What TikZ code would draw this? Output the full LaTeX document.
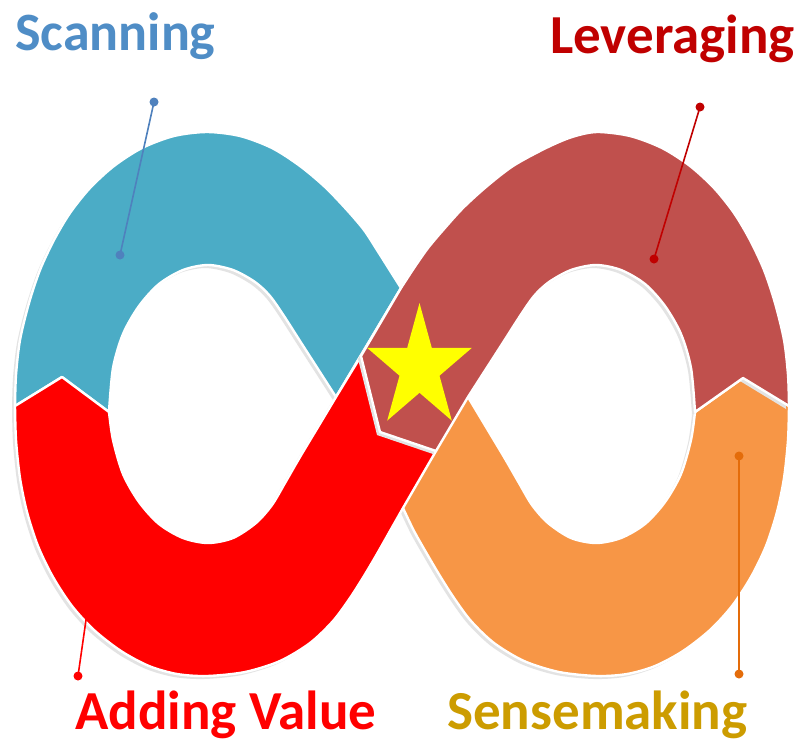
\documentclass[tikz,border=0pt]{standalone}
\usepackage{fontspec}
\setmainfont{Carlito}
\definecolor{bandblue}{HTML}{4BACC6}
\definecolor{bandbrick}{HTML}{C0504D}
\definecolor{bandred}{HTML}{FF0000}
\definecolor{bandorange}{HTML}{F79646}
\definecolor{scantext}{HTML}{4F8DC6}
\definecolor{scanline}{HTML}{4F81BD}
\definecolor{levtext}{HTML}{C00000}
\definecolor{sensetext}{HTML}{CC9C00}
\definecolor{senseline}{HTML}{E46C0A}
\definecolor{staryellow}{HTML}{FFFF00}
\begin{document}
% left loop outline pieces
\def\LOtop{(401,288) (389,269) (377,250) (364,230) (347,210) (325,187) (300,166) (272,148) (240,136) (207,132) (174,136) (142,148) (114,166) (90,188) (70,213) (54,240) (40,270) (29,303) (20,340) (16,375) (15,406)}
\def\LObot{(15,406) (16,440) (20,478) (27,512) (38,546) (53,577) (72,606) (94,630) (121,651) (149,666) (177,674) (207,676) (245,672) (280,661) (310,643) (333,621) (350,598) (364,576) (377,554) (390,531) (403,508)}
\def\LHup{(109,412) (113,368) (123,334) (139,306) (159,284) (183,270) (208,265) (233,270) (255,282) (270,296) (284,316) (300,341) (318,369) (336,397)}
\def\LHlow{(336,397) (318,427) (300,457) (285,483) (272,505) (256,523) (233,538) (208,543) (183,538) (159,524) (139,502) (123,474) (113,440) (109,412)}
% right loop outline pieces
\def\ROtop{(401,288) (414,268) (428,248) (444,229) (463,208) (486,187) (513,166) (546,148) (572,137) (597,132) (630,136) (662,148) (690,166) (714,188) (734,213) (750,240) (764,270) (775,303) (784,340) (788,375) (789,406)}
\def\RObot{(403,508) (414,531) (427,554) (440,576) (454,598) (471,621) (494,643) (524,661) (559,672) (597,676) (627,674) (655,666) (683,651) (710,630) (732,606) (751,577) (766,546) (777,512) (784,478) (788,440) (789,406)}
\def\RHup{(695,412) (691,368) (681,334) (665,306) (645,284) (621,270) (596,265) (571,270) (549,282) (534,296) (520,316) (504,341) (486,369) (468,397)}
\def\RHlow{(695,412) (691,440) (681,474) (665,502) (645,524) (621,538) (596,543) (571,538) (548,523) (532,505) (519,483) (504,457) (486,427) (468,397)}
% segment outlines
\def\pBlue{(401,288) -- plot[smooth,tension=.5] coordinates {\LOtop} -- (62,377) -- plot[smooth,tension=.5] coordinates {\LHup} -- (403,508) -- (468,397) -- cycle}
\def\pOrange{(403,508) -- plot[smooth,tension=.5] coordinates {\RObot} -- (743,378) -- plot[smooth,tension=.5] coordinates {\RHlow} -- (401,288) -- (336,397) -- cycle}
\def\pRed{(15,406) -- plot[smooth,tension=.5] coordinates {\LObot} -- (436,451) -- (380,432) -- (361,356) -- plot[smooth,tension=.5] coordinates {\LHlow} -- (62,377) -- cycle}
\def\pBrick{(361,356) -- plot[smooth,tension=.5] coordinates {\ROtop} -- (743,378) -- plot[smooth,tension=.5] coordinates {\RHup} -- (436,451) -- (380,432) -- cycle}
\begin{tikzpicture}[x=1pt,y=-1pt,
  seg/.style={draw=white, line width=2.4pt, line join=round},
  segshadow/.style={fill=black!11, xshift=-3pt, yshift=-3pt},
  lbl/.style={font=\fontsize{55}{60}\selectfont\bfseries, inner sep=0pt, anchor=base west},
  lead/.style={line width=1.6pt},
  dot/.style={circle, inner sep=0pt, minimum size=9pt}]
\fill[white] (0,0) rectangle (799,742);
\useasboundingbox (0,0) rectangle (799,742);
% band segments
\fill[segshadow] \pBlue;
\filldraw[seg, fill=bandblue] \pBlue;
\fill[segshadow] \pOrange;
\filldraw[seg, fill=bandorange] \pOrange;
\fill[segshadow] \pRed;
\filldraw[seg, fill=bandred] \pRed;
\fill[segshadow] \pBrick;
\filldraw[seg, fill=bandbrick] \pBrick;
% star
\fill[staryellow] (419.5,303) -- (431.8,347.9) -- (471.8,347.9) -- (439.5,375.7) -- (451.8,420.6) -- (419.5,392.8) -- (387.2,420.6) -- (399.5,375.7) -- (367.2,347.9) -- (407.2,347.9) -- cycle;
% labels
\node[lbl, text=scantext, font=\fontsize{54}{60}\selectfont\bfseries] (scan) at (15,50) {Scanning};
\node[lbl, text=levtext] (lev) at (550,53) {Leveraging};
\node[lbl, text=bandred] (add) at (75,729) {Adding Value};
\node[lbl, text=sensetext] (sense) at (447,729) {Sensemaking};
% leader lines
\node[dot, fill=scanline] (s1) at (154,102) {};
\node[dot, fill=scanline] (s2) at (120,255) {};
\draw[lead, scanline] (s1.center) -- (s2.center);
\node[dot, fill=levtext] (l1) at (700,107) {};
\node[dot, fill=levtext] (l2) at (654,259) {};
\draw[lead, levtext] (l1.center) -- (l2.center);
\node[dot, fill=bandred] (a1) at (78,676) {};
\coordinate (a2) at (88,606);
\draw[lead, bandred] (a1.center) -- (a2);
\node[dot, fill=senseline] (e1) at (739,674) {};
\node[dot, fill=senseline] (e2) at (739,456) {};
\draw[lead, senseline] (e1.center) -- (e2.center);
\end{tikzpicture}
\end{document}
